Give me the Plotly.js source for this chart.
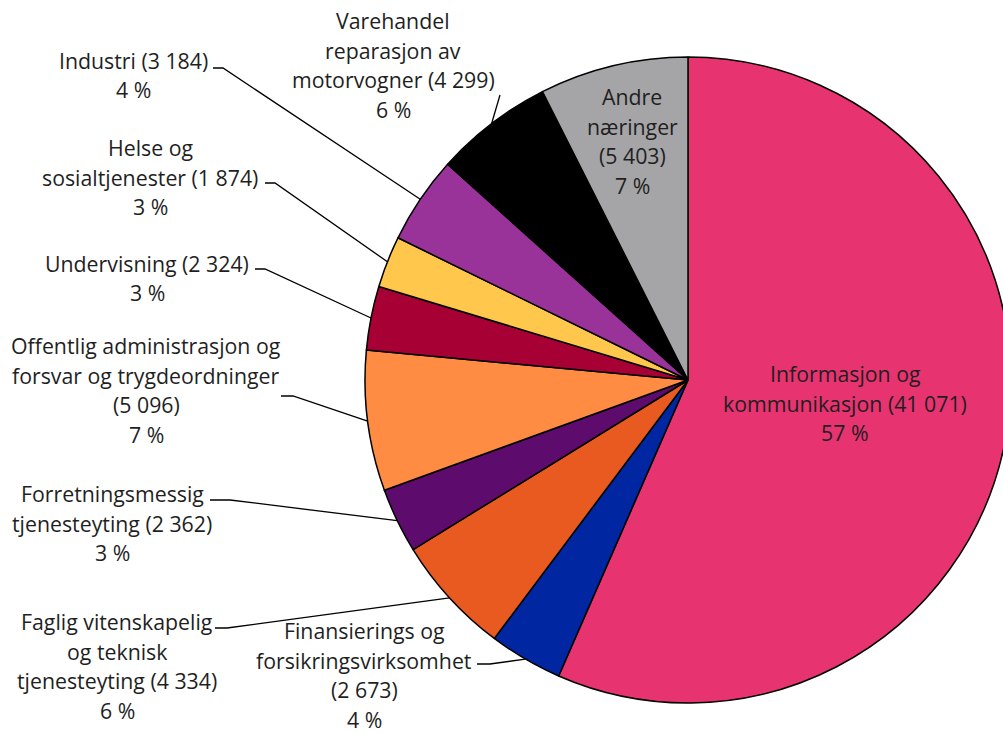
<!DOCTYPE html>
<html>
<head>
<meta charset="utf-8">
<script src="https://cdn.plot.ly/plotly-3.0.1.min.js"></script>
<style>
html,body{margin:0;padding:0;overflow:hidden;background:#fff;}
#chart{width:1100px;height:733px;}
</style>
</head>
<body>
<div id="chart"></div>
<script>
// ---- data ----
const categories = [
  "Informasjon og\nkommunikasjon",
  "Finansierings og\nforsikringsvirksomhet",
  "Faglig vitenskapelig\nog teknisk\ntjenesteyting",
  "Forretningsmessig\ntjenesteyting",
  "Offentlig administrasjon og\nforsvar og trygdeordninger",
  "Undervisning",
  "Helse og\nsosialtjenester",
  "Industri",
  "Varehandel\nreparasjon av\nmotorvogner",
  "Andre\nnæringer"
];
const values = [41071, 2673, 4334, 2362, 5096, 2324, 1874, 3184, 4299, 5403];
const valueOnNewLine = [false, true, false, false, true, false, false, false, false, true];
const colors = ["#E83371", "#0027A1", "#E85A20", "#5E0B6E", "#FF8C42", "#A60034", "#FFC84D", "#993399", "#000000", "#A5A5A7"];

// ---- layout constants (pixels) ----
const W = 1100, H = 733;
const CX = 688, CY = 380, R = 323;
// label block centers
const labelPos = [
  [845, 403], [364, 675], [117, 666], [112, 523], [146, 390],
  [147, 278], [150, 177], [133, 75], [393, 65], [632, 141]
];
// leader lines: [startX, startY, bendX] (null = inside label)
const leaders = [
  null, [477, 664, 490], [215, 628, 227], [210, 500, 230], [281, 396, 293],
  [255, 269, 265], [265, 183, 275], [213, 68, 223], [500, 95, 500], null
];
const LINE_H = 29.7;
const FONT = {family: "'Open Sans', sans-serif", size: 21.3, color: "#1f1f1f"};

const px = x => x / W;
const py = y => 1 - y / H;
const fmt = n => String(n).replace(/\B(?=(\d{3})+(?!\d))/g, " ");

const total = values.reduce((a, b) => a + b, 0);

const annotations = [];
const shapes = [];
let cum = 0;
values.forEach((v, i) => {
  const pct = Math.round(v / total * 100);
  let lines = categories[i].split("\n");
  if (valueOnNewLine[i]) lines.push("(" + fmt(v) + ")");
  else lines[lines.length - 1] += " (" + fmt(v) + ")";
  lines.push(pct + " %");
  const [lx, ly] = labelPos[i];
  const n = lines.length;
  lines.forEach((t, k) => {
    annotations.push({
      x: px(lx), y: py(ly + (k - (n - 1) / 2) * LINE_H),
      xref: "paper", yref: "paper", text: t, showarrow: false,
      xanchor: "center", yanchor: "middle", font: FONT
    });
  });
  // slice mid angle (clockwise from 12 o'clock)
  const mid = (cum + v / 2) / total * 2 * Math.PI;
  cum += v;
  const L = leaders[i];
  if (L) {
    const ex = CX + R * Math.sin(mid);
    const ey = CY - R * Math.cos(mid);
    const path = `M ${px(L[0])} ${py(L[1])} L ${px(L[2])} ${py(L[1])} L ${px(ex)} ${py(ey)}`;
    shapes.push({type: "path", xref: "paper", yref: "paper", path: path,
      line: {color: "#000", width: 1.3}});
  }
});

const trace = {
  type: "pie",
  labels: categories.map(c => c.replace(/\n/g, " ")),
  values: values,
  sort: false,
  direction: "clockwise",
  rotation: 0,
  textinfo: "none",
  hoverinfo: "label+value+percent",
  marker: {colors: colors, line: {color: "#000", width: 1.5}},
  domain: {x: [px(CX - R), px(CX + R)], y: [py(CY + R), py(CY - R)]},
  showlegend: false
};

const layout = {
  width: W, height: H,
  margin: {l: 0, r: 0, t: 0, b: 0},
  paper_bgcolor: "#fff",
  showlegend: false,
  annotations: annotations,
  shapes: shapes
};

Plotly.newPlot("chart", [trace], layout, {displayModeBar: false, staticPlot: true});
</script>
</body>
</html>
